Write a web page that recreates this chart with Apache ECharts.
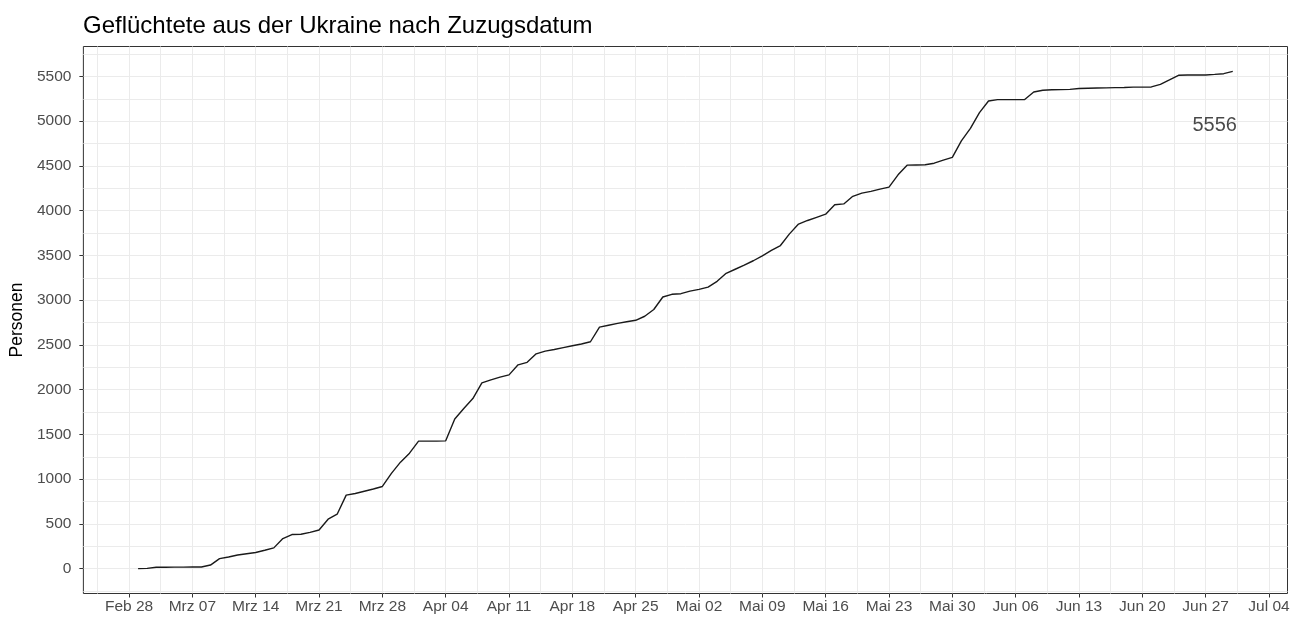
<!DOCTYPE html>
<html>
<head>
<meta charset="utf-8">
<title>Geflüchtete aus der Ukraine nach Zuzugsdatum</title>
<script src="https://cdn.jsdelivr.net/npm/echarts@6/dist/echarts.min.js"></script>
<style>
	html, body { margin: 0; padding: 0; background: #fff; }
	#chart { width: 1303px; height: 619px; }
</style>
</head>
<body>
<div id="chart"></div>
<script>
// Zuzugsdatum: taegliche Werte ab dem ersten Tag
var startDate = '2022-03-01';
var personen = [
	0, 3, 15, 16, 17, 17, 18, 18, 40, 112,
	130, 152, 167, 180, 205, 232, 336, 381, 384, 405,
	432, 552, 608, 821, 840, 865, 890, 918, 1064, 1190,
	1290, 1425, 1425, 1425, 1428, 1672, 1790, 1900, 2075, 2109,
	2140, 2165, 2277, 2305, 2400, 2430, 2448, 2470, 2490, 2510,
	2535, 2699, 2720, 2740, 2758, 2775, 2820, 2895, 3035, 3065,
	3072, 3100, 3120, 3145, 3210, 3300, 3345, 3390, 3440, 3495,
	3555, 3610, 3740, 3850, 3890, 3925, 3960, 4065, 4075, 4160,
	4195, 4215, 4240, 4262, 4400, 4508, 4510, 4512, 4530, 4565,
	4595, 4780, 4920, 5095, 5225, 5240, 5240, 5240, 5242, 5325,
	5345, 5350, 5352, 5355, 5365, 5368, 5370, 5372, 5374, 5376,
	5380, 5380, 5382, 5410, 5460, 5512, 5515, 5515, 5516, 5522,
	5530, 5556
];
// Achsenbeschriftung
var xTicks = ['2022-02-28', '2022-03-07', '2022-03-14', '2022-03-21', '2022-03-28',
	'2022-04-04', '2022-04-11', '2022-04-18', '2022-04-25', '2022-05-02', '2022-05-09',
	'2022-05-16', '2022-05-23', '2022-05-30', '2022-06-06', '2022-06-13', '2022-06-20',
	'2022-06-27', '2022-07-04'];
var yTicks = [0, 500, 1000, 1500, 2000, 2500, 3000, 3500, 4000, 4500, 5000, 5500];
var monate = ['Jan', 'Feb', 'Mrz', 'Apr', 'Mai', 'Jun', 'Jul', 'Aug', 'Sep', 'Okt', 'Nov', 'Dez'];
// Beschriftung am Ende (Datum, Hoehe)
var endLabel = ['2022-06-28', 4950];

var DAY = 86400000;
function toUtc(s) {
	var p = s.split('-');
	return Date.UTC(+p[0], +p[1] - 1, +p[2]);
}
var origin = toUtc(xTicks[0]);
function dayOf(s) {
	return Math.round((toUtc(s) - origin) / DAY);
}
function fmtDay(v) {
	var d = new Date(origin + Math.round(v) * DAY);
	var t = d.getUTCDate();
	return monate[d.getUTCMonth()] + ' ' + (t < 10 ? '0' + t : t);
}

var first = dayOf(startDate);
var lineData = [];
for (var i = 0; i < personen.length; i++) {
	lineData.push([first + i, personen[i]]);
}

// ggplot-artige Erweiterung um 5 %
var xLo = first, xHi = first + personen.length - 1;
var yLo = Math.min.apply(null, personen), yHi = Math.max.apply(null, personen);
var xMin = xLo - (xHi - xLo) * 0.05, xMax = xHi + (xHi - xLo) * 0.05;
var yMin = yLo - (yHi - yLo) * 0.05, yMax = yHi + (yHi - yLo) * 0.05;

// Haupt- und Nebengitter
var xMajor = xTicks.map(dayOf);
var xGrid = [];
for (var i = 0; i < xMajor.length; i++) {
	xGrid.push(xMajor[i]);
	xGrid.push(xMajor[i] - 3.5);
}
xGrid = xGrid.filter(function(v) { return v > xMin && v < xMax; });
var yGrid = [];
for (var i = 0; i < yTicks.length; i++) {
	yGrid.push(yTicks[i]);
	yGrid.push(yTicks[i] - 250);
	yGrid.push(yTicks[i] + 250);
}
yGrid = yGrid.filter(function(v, k, a) { return v > yMin && v < yMax && a.indexOf(v) === k; });

var FONT = '"Liberation Sans", Arial, sans-serif';
var gridLine = { show: true, lineStyle: { color: '#ebebeb', width: 1 } };
var tickStyle = { color: '#333333', width: 1 };

var option = {
	animation: false,
	backgroundColor: '#ffffff',
	title: {
		text: 'Geflüchtete aus der Ukraine nach Zuzugsdatum',
		left: 78,
		top: 9,
		textStyle: { fontFamily: FONT, fontSize: 24, fontWeight: 'normal', color: '#000000' }
	},
	grid: {
		left: 81.5, right: 15.5, top: 46.5, bottom: 25.5,
		containLabel: false,
		show: true,
		borderColor: '#333333',
		borderWidth: 1,
		backgroundColor: '#ffffff'
	},
	xAxis: [{
		type: 'value', min: xMin, max: xMax,
		axisLine: { show: false, onZero: false },
		axisTick: { show: false, customValues: xGrid },
		axisLabel: { show: false, customValues: xGrid },
		splitLine: gridLine
	}, {
		type: 'value', min: xMin, max: xMax, position: 'bottom',
		axisLine: { show: false, onZero: false },
		axisTick: { show: true, length: 4, customValues: xMajor, lineStyle: tickStyle },
		axisLabel: {
			customValues: xMajor, margin: 5,
			color: '#4d4d4d', fontFamily: FONT, fontSize: 15.5,
			formatter: fmtDay
		},
		splitLine: { show: false }
	}],
	yAxis: [{
		type: 'value', min: yMin, max: yMax,
		axisLine: { show: false, onZero: false },
		axisTick: { show: false, customValues: yGrid },
		axisLabel: { show: false, customValues: yGrid },
		splitLine: gridLine
	}, {
		type: 'value', min: yMin, max: yMax, position: 'left',
		name: 'Personen',
		nameLocation: 'middle',
		nameGap: 54,
		nameTextStyle: { fontFamily: FONT, fontSize: 17.5, color: '#000000' },
		axisLine: { show: false, onZero: false },
		axisTick: { show: true, length: 4, customValues: yTicks, lineStyle: tickStyle },
		axisLabel: {
			customValues: yTicks, margin: 12,
			color: '#4d4d4d', fontFamily: FONT, fontSize: 15.5,
			formatter: function(v) { return String(v); }
		},
		splitLine: { show: false }
	}],
	series: [{
		type: 'line',
		xAxisIndex: 0,
		yAxisIndex: 0,
		data: lineData,
		symbol: 'none',
		lineStyle: { color: '#1a1a1a', width: 1.4 },
		z: 5
	}, {
		type: 'scatter',
		xAxisIndex: 0,
		yAxisIndex: 0,
		data: [[dayOf(endLabel[0]), endLabel[1]]],
		symbolSize: 0,
		silent: true,
		label: {
			show: true,
			position: 'inside',
			formatter: String(personen[personen.length - 1]),
			fontFamily: FONT,
			fontSize: 20,
			color: '#1a1a1a'
		}
	}]
};

var chart = echarts.init(document.getElementById('chart'));
chart.setOption(option);
</script>
</body>
</html>
